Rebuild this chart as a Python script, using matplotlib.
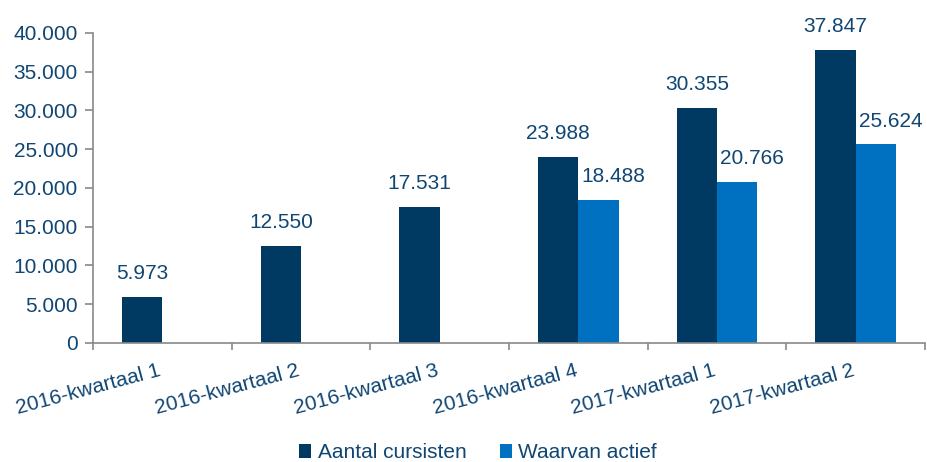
import numpy as np
import matplotlib.pyplot as plt

categories = ['2016-kwartaal 1', '2016-kwartaal 2', '2016-kwartaal 3',
              '2016-kwartaal 4', '2017-kwartaal 1', '2017-kwartaal 2']
aantal = [5973, 12550, 17531, 23988, 30355, 37847]
actief = [np.nan, np.nan, np.nan, 18488, 20766, 25624]

dark = '#003A63'
light = '#0070C0'
txt = '#104673'
grey = '#898989'
fs = 15

plt.rcParams['font.family'] = ['Liberation Sans', 'DejaVu Sans']

fig = plt.figure(figsize=(9.28, 4.62), dpi=100)
ax = fig.add_axes([0.1002, 0.2576, 0.8966, 0.671])

x = np.arange(len(categories))
w = 0.29
b1 = ax.bar(x - w / 2, aantal, w, color=dark, label='Aantal cursisten')
b2 = ax.bar(x + w / 2, actief, w, color=light, label='Waarvan actief')

def fmt(v):
    return f'{int(v):,}'.replace(',', '.')

for xi, v in zip(x, aantal):
    ax.annotate(fmt(v), (xi - w / 2, v), xytext=(0, 10), textcoords='offset points',
                ha='center', va='bottom', fontsize=fs, color=txt)
for xi, v in zip(x, actief):
    if not np.isnan(v):
        ax.annotate(fmt(v), (xi + w / 2, v), xytext=(11, 10), textcoords='offset points',
                    ha='center', va='bottom', fontsize=fs, color=txt)

ax.set_xlim(-0.5, len(categories) - 0.5)
ax.set_ylim(0, 40000)
ax.set_yticks(np.arange(0, 40001, 5000))
ax.set_yticklabels([fmt(v) for v in np.arange(0, 40001, 5000)])

ax.set_xticks(np.arange(-0.5, len(categories), 1))
ax.set_xticklabels([])
ax.set_xticks(x - 0.03, minor=True)
ax.set_xticklabels(categories, minor=True, rotation=15, ha='right',
                   rotation_mode='anchor')
ax.tick_params(axis='x', which='minor', length=0, pad=13, labelsize=fs, labelcolor=txt)
ax.tick_params(axis='x', which='major', length=5, color=grey, width=1.2)
ax.tick_params(axis='y', length=6, color=grey, width=1.2, labelsize=fs, labelcolor=txt, pad=5)

for s in ['top', 'right']:
    ax.spines[s].set_visible(False)
for s in ['left', 'bottom']:
    ax.spines[s].set_color(grey)
    ax.spines[s].set_linewidth(1.2)

fig.legend(handles=[b1, b2], loc='center', bbox_to_anchor=(478 / 928, 0.02),
           ncol=2, frameon=False, fontsize=fs, labelcolor=txt,
           handlelength=0.6, handleheight=0.6, handletextpad=0.3, columnspacing=1.6)

plt.savefig('out.png', dpi=100)
